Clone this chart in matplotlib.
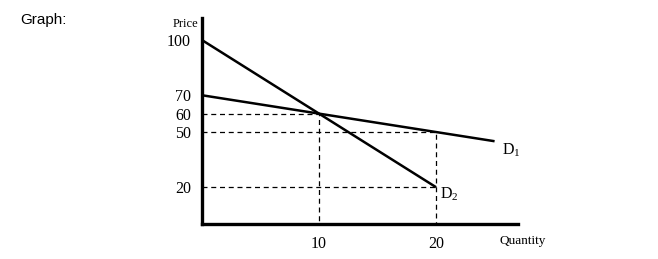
import matplotlib.pyplot as plt

# demand curves (quantity, price)
d1_q = [0, 25]
d1_p = [70, 45]
d2_q = [0, 20]
d2_p = [100, 20]

y_ticks = [20, 50, 60, 70, 100]
x_ticks = [10, 20]

# dashed guide lines: (quantity, price) points
guides = [
    ([0, 10, 10], [60, 60, 0]),
    ([0, 20, 20], [50, 50, 0]),
    ([0, 20], [20, 20]),
]

serif = "Liberation Serif"
plt.rcParams["mathtext.fontset"] = "custom"
plt.rcParams["mathtext.rm"] = serif
plt.rcParams["mathtext.it"] = serif + ":italic"

fig = plt.figure(figsize=(6.58, 2.59), dpi=100)
fig.text(20 / 658, 1 - 20 / 259, "Graph:", family="Liberation Sans",
         fontsize=11, va="center", ha="left")

ax = fig.add_axes([202 / 658, 1 - 224 / 259, 316 / 658, 206 / 259])
ax.set_xlim(0, 27)
ax.set_ylim(0, 112)

for q, p in guides:
    ax.plot(q, p, color="black", lw=0.9, ls=(0, (4, 3)))

ax.plot(d1_q, d1_p, color="black", lw=1.8, solid_capstyle="butt")
ax.plot(d2_q, d2_p, color="black", lw=1.8, solid_capstyle="butt")

ax.text(d1_q[-1] + 0.6, d1_p[-1] - 5, r"D$_\mathrm{1}$", family=serif,
        fontsize=11.5, va="center", ha="left")
ax.text(d2_q[-1] + 0.3, d2_p[-1] - 4, r"D$_\mathrm{2}$", family=serif,
        fontsize=11.5, va="center", ha="left")

for s in ["top", "right"]:
    ax.spines[s].set_visible(False)
for s in ["left", "bottom"]:
    ax.spines[s].set_linewidth(2.4)
    ax.spines[s].set_capstyle("projecting")

ax.set_xticks(x_ticks)
ax.set_yticks(y_ticks)
ax.set_xticklabels([str(v) for v in x_ticks], family=serif, fontsize=11.5)
ax.set_yticklabels([str(v) for v in y_ticks], family=serif, fontsize=11.5)
ax.tick_params(length=0, pad=8)
ax.tick_params(axis="x", pad=9)

fig.text(185 / 658, 1 - 24 / 259, "Price", family=serif, fontsize=9,
         ha="center", va="center")
fig.text(499 / 658, 1 - 241 / 259, "Quantity", family=serif, fontsize=9.5,
         ha="left", va="center")

fig.savefig("out.png", dpi=100)
